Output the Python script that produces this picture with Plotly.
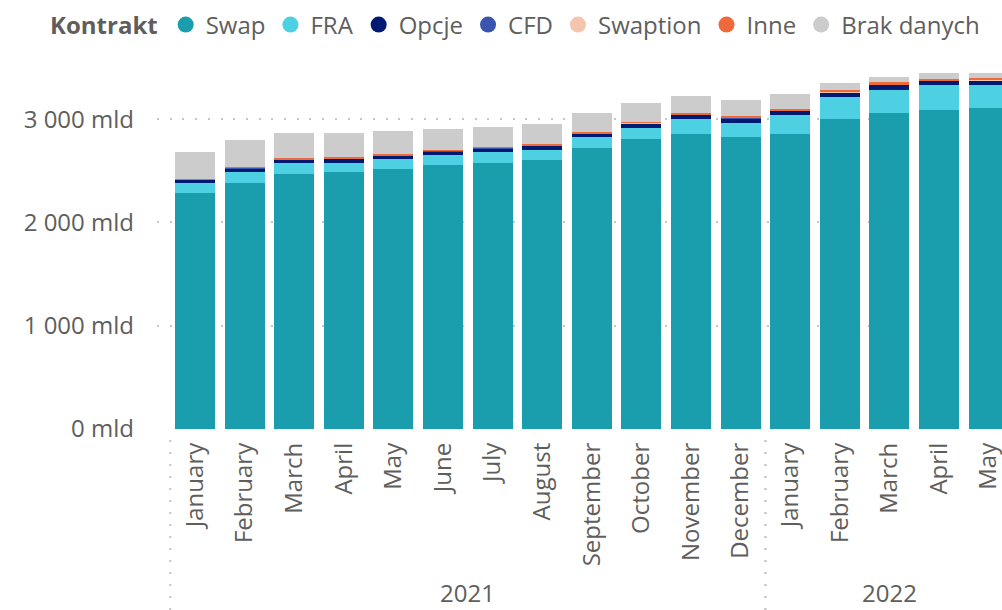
import plotly.graph_objects as go

months = ["January", "February", "March", "April", "May", "June", "July", "August",
          "September", "October", "November", "December",
          "January", "February", "March", "April", "May"]
years = ["2021"] * 12 + ["2022"] * 5

swap = [2287, 2384, 2471, 2490, 2519, 2558, 2578, 2607, 2723, 2810, 2859, 2829,
        2859, 3004, 3062, 3091, 3110]
fra = [97, 107, 107, 88, 97, 97, 106, 96, 106, 107, 145, 136,
       184, 213, 223, 242, 223]
opcje = [29, 32, 29, 41, 29, 36, 36, 39, 29, 38, 39, 39,
         38, 39, 48, 39, 39]
cfd = [2, 5, 2, 2, 2, 2, 2, 2, 2, 8, 3, 12,
       2, 2, 2, 2, 2]
swaption = [2, 2, 2, 2, 2, 2, 2, 2, 2, 2, 2, 2,
            2, 2, 3, 2, 2]
inne = [8, 8, 17, 15, 18, 10, 11, 18, 18, 13, 16, 15,
        18, 27, 18, 17, 27]
brak = [261, 256, 242, 232, 223, 204, 193, 193, 184, 175, 165, 155,
        145, 68, 58, 59, 49]

series_names = ["Swap", "FRA", "Opcje", "CFD", "Swaption", "Inne", "Brak danych"]
series_values = [swap, fra, opcje, cfd, swaption, inne, brak]
colors = ["#1A9EAD", "#4DD0E1", "#001A72", "#3A55AF", "#F5C4AF", "#EE6A3A", "#CCCCCC"]

y_ticks = [0, 1000, 2000, 3000]
y_tick_labels = ["0 mld", "1 000 mld", "2 000 mld", "3 000 mld"]

FONT = "Segoe UI, Open Sans, sans-serif"
TXT = "#605E5C"

x = list(range(len(months)))

fig = go.Figure()
for name, vals, col in zip(series_names, series_values, colors):
    fig.add_trace(go.Bar(x=x, y=vals, name=name, marker=dict(color=col, line=dict(width=0)),
                         showlegend=False, legendgroup=name))
for name, col in zip(series_names, colors):
    fig.add_trace(go.Scatter(x=[None], y=[None], mode="markers", name=name, legendgroup=name,
                             marker=dict(symbol="circle", size=18, color=col)))

# year group labels and dotted separators
groups = []
for i, yv in enumerate(years):
    if not groups or groups[-1][0] != yv:
        groups.append([yv, i, i])
    else:
        groups[-1][2] = i
for yv, a, b in groups:
    fig.add_annotation(x=(a + b) / 2, y=-0.444, xref="x", yref="paper", text=yv,
                       showarrow=False, font=dict(family=FONT, size=24, color=TXT),
                       yanchor="middle")
    for xv in (a - 0.5, b + 0.5):
        fig.add_shape(type="line", x0=xv, x1=xv, y0=-0.03, y1=-0.5, xref="x", yref="paper",
                      line=dict(color="#C8C6C4", width=2, dash="2px,10px"))

fig.update_layout(
    width=1002, height=610,
    margin=dict(l=157, r=0, t=60, b=181),
    paper_bgcolor="white", plot_bgcolor="white",
    barmode="stack", bargap=0.19,
    font=dict(family=FONT, size=24, color=TXT),
    legend=dict(orientation="h", x=-0.129, xanchor="left", y=1.0949, yanchor="middle",
                title=dict(text="<b>Kontrakt</b>", font=dict(family=FONT, size=24, color=TXT)),
                font=dict(family=FONT, size=24, color=TXT),
                itemwidth=30, tracegroupgap=0, bgcolor="rgba(0,0,0,0)"),
    xaxis=dict(range=[-0.766, 16.27], tickmode="array", tickvals=x, ticktext=months,
               tickangle=-90, showgrid=False, zeroline=False, showline=False, ticks="",
               ticklabelstandoff=8, ticklabeloverflow="allow",
               tickfont=dict(family=FONT, size=24, color=TXT)),
    yaxis=dict(range=[-2, 3574], tickmode="array", tickvals=y_ticks, ticktext=y_tick_labels,
               showgrid=True, gridcolor="#C8C6C4", gridwidth=2, griddash="2px,10.7px",
               zeroline=False, showline=False, ticks="", ticklabelstandoff=22,
               tickfont=dict(family=FONT, size=24, color=TXT)),
)

fig.write_html("out.html", config={"displayModeBar": False},
               post_script="document.body.style.margin='0';")
